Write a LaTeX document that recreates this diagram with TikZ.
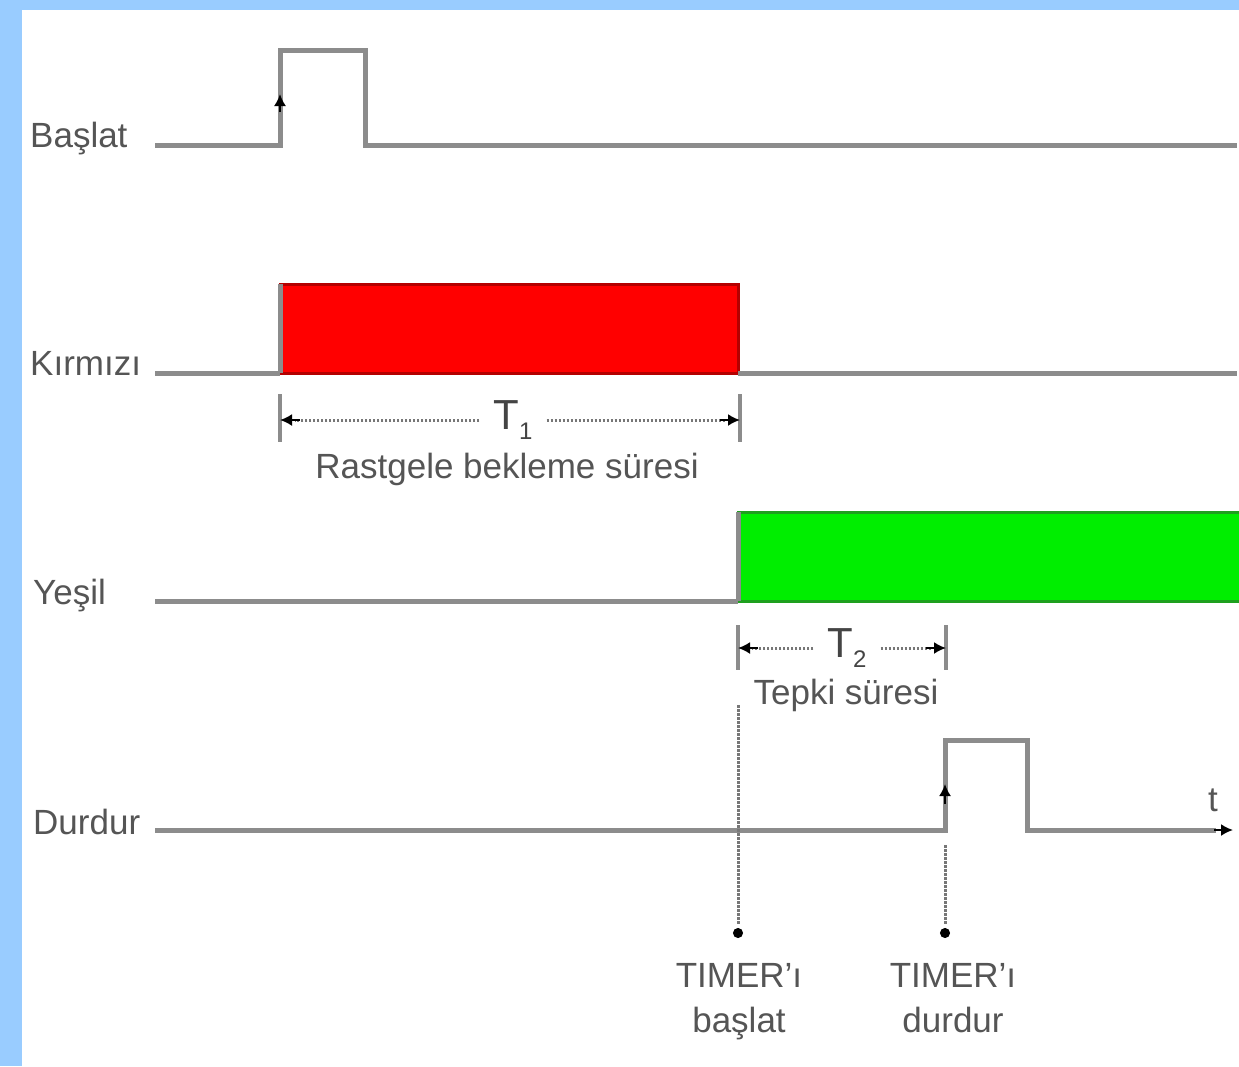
\documentclass[tikz,border=0pt]{standalone}
\usepackage{fontspec}
\setmainfont{Liberation Sans}
\usetikzlibrary{arrows.meta}
\definecolor{bgblue}{RGB}{153,204,255}
\definecolor{sigc}{RGB}{140,140,140}
\definecolor{txtc}{RGB}{85,85,85}
\definecolor{redf}{RGB}{255,0,0}
\definecolor{redl}{RGB}{180,0,0}
\definecolor{grnf}{RGB}{0,238,0}
\definecolor{grnl}{RGB}{30,160,30}
\begin{document}
\begin{tikzpicture}[x=1pt,y=-1pt,
  sig/.style={draw=sigc, line width=5pt, line join=miter},
  dimln/.style={draw=sigc!85!black, line width=3pt, dash pattern=on 2.5pt off 1.5pt},
  tickln/.style={draw=sigc, line width=3.5pt},
  lbl/.style={text=txtc, font=\fontsize{35}{40}\selectfont, inner sep=0pt},
  tname/.style={text=txtc!80!black, font=\fontsize{42}{44}\selectfont, inner sep=0pt, inner xsep=14pt},
  tipk/.style={-{Latex[length=12pt,width=12pt]}, black, line width=2pt},
  redbox/.style={fill=redf, draw=redl, line width=3pt},
  grnbox/.style={fill=grnf, draw=grnl, line width=3pt}
]
% background and margins
\fill[bgblue] (0,0) rectangle (1239,1066);
\fill[white] (22,10) rectangle (1239,1066);
\path[use as bounding box] (0,0) rectangle (1239,1066);

% signal labels
\node[lbl, anchor=base west] (lBas) at (30,147) {Başlat};
\node[lbl, anchor=base west] (lKir) at (30,375) {Kırmızı};
\node[lbl, anchor=base west] (lYes) at (33,604) {Yeşil};
\node[lbl, anchor=base west] (lDur) at (33,834) {Durdur};

% Baslat
\draw[sig] (155,145) -- (280,145) -- (280,50) -- (365,50) -- (365,145) -- (1237,145);
\coordinate (bA) at (280,112);
\coordinate (bB) at (280,94);
\draw[tipk] (bA) -- (bB);

% Kirmizi
\draw[redbox] (280,284) rectangle (738,373);
\draw[sig] (280,373) -- (280,284);
\draw[sig] (155,373) -- (280,373);
\draw[sig] (738,373) -- (1237,373);

% Yesil
\draw[grnbox] (738,512) rectangle (1241,601);
\draw[sig] (738,601) -- (738,512);
\draw[sig] (155,601) -- (738,601);

% Durdur
\draw[sig] (155,830) -- (945,830) -- (945,740) -- (1027,740) -- (1027,830) -- (1216,830);
\coordinate (dEnd) at (1214,830);
\coordinate (dTip) at (1233,830);
\draw[tipk] (dEnd) -- (dTip);
\coordinate (dA) at (945,804);
\coordinate (dB) at (945,784);
\draw[tipk] (dA) -- (dB);
\node[lbl] (tlab) at (1213,800) {t};

% T1 dimension
\coordinate (t1L) at (280,420);
\coordinate (t1R) at (740,420);
\draw[tickln] (280,394) -- (280,442);
\draw[tickln] (740,394) -- (740,442);
\node[tname] (T1) at (513,420) {T\raisebox{-0.25em}{\fontsize{24}{24}\selectfont 1}};
\draw[dimln] (T1.west) -- (295,420);
\draw[dimln] (T1.east) -- (725,420);
\draw[tipk] (300,420) -- (t1L);
\draw[tipk] (720,420) -- (t1R);
\node[lbl, anchor=base] (rast) at (507,478) {Rastgele bekleme süresi};

% T2 dimension
\coordinate (t2L) at (738,648);
\coordinate (t2R) at (946,648);
\draw[tickln] (738,625) -- (738,670);
\draw[tickln] (946,625) -- (946,670);
\node[tname, inner xsep=14pt] (T2) at (847,648) {T\raisebox{-0.25em}{\fontsize{24}{24}\selectfont 2}};
\draw[dimln] (T2.west) -- (752,648);
\draw[dimln] (T2.east) -- (932,648);
\draw[tipk] (758,648) -- (t2L);
\draw[tipk] (926,648) -- (t2R);
\node[lbl, anchor=base] (tepki) at (846,704) {Tepki süresi};

% timer markers
\coordinate (v1top) at (738,705);
\coordinate (v1bot) at (738,938);
\coordinate (v2top) at (945,845);
\coordinate (v2bot) at (945,938);
\draw[dimln] (v1top) -- (738,925);
\draw[dimln] (v2top) -- (945,925);
\draw[-{Circle[length=10pt]}, black, line width=1pt] (738,928) -- (v1bot);
\draw[-{Circle[length=10pt]}, black, line width=1pt] (945,928) -- (v2bot);

\node[lbl, anchor=base] (tm1a) at (739,987) {TIMER'ı};
\node[lbl, anchor=base] (tm1b) at (739,1032) {başlat};
\node[lbl, anchor=base] (tm2a) at (953,987) {TIMER'ı};
\node[lbl, anchor=base] (tm2b) at (953,1032) {durdur};
\end{tikzpicture}
\end{document}
